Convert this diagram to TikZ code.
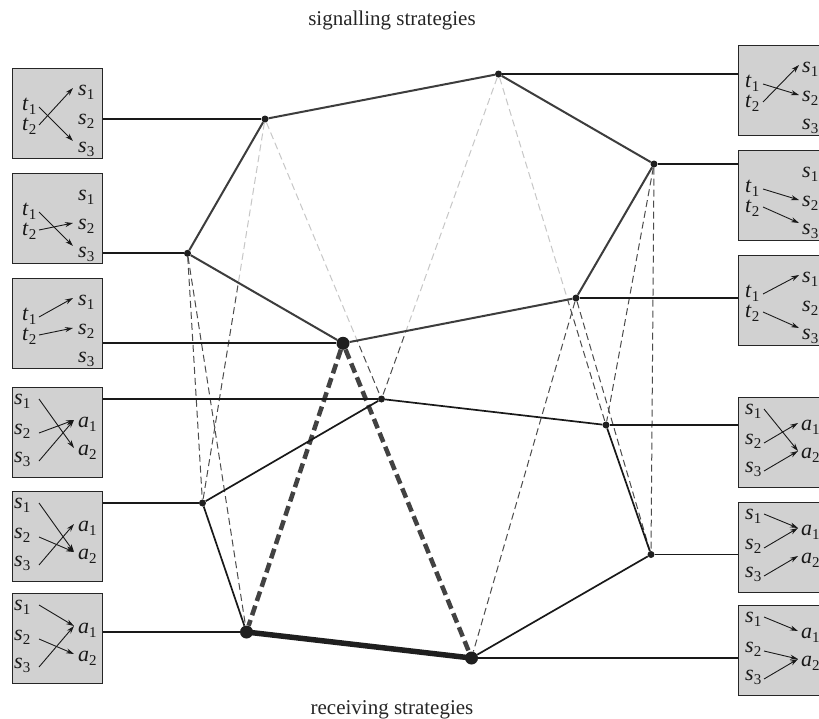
\documentclass[tikz,border=0pt]{standalone}
\usepackage{fontspec}
\setmainfont{Liberation Serif}
\usetikzlibrary{arrows.meta}
\pgfdeclarelayer{paper}
\pgfdeclarelayer{back}
\pgfsetlayers{paper,back,main}
\newcommand{\sv}[2]{\textit{#1}\raisebox{-4.5pt}{\fontsize{15}{15}\selectfont #2}}
\tikzset{
  boxfill/.style={draw=black!85, line width=1pt, fill=black!18, minimum width=90pt, minimum height=90pt, inner sep=0pt, anchor=north west},
  lab/.style={inner sep=0pt, anchor=base west, font=\fontsize{22}{22}\selectfont, text=black!90},
  arr/.style={line width=0.9pt, draw=black!90, -{Stealth[length=8pt,width=5pt]}},
  pics/sigbox/.style n args={6}{code={
    \node[boxfill] (-box) at (0,0) {};
    \node[lab] (-t1) at (#3,42) {\sv{t}{1}};
    \node[lab] (-t2) at (#3,62) {\sv{t}{2}};
    \node[lab] (-s1) at (#6,27) {\sv{s}{1}};
    \node[lab] (-s2) at (#6,56) {\sv{s}{2}};
    \node[lab] (-s3) at (#6,84) {\sv{s}{3}};
    \coordinate (-o1) at (#4,39);
    \coordinate (-o2) at (#4,57);
    \coordinate (-e1) at (#5,20);
    \coordinate (-e2) at (#5,50);
    \coordinate (-e3) at (#5,73);
    \draw[arr] (-o1) -- (-e#1);
    \draw[arr] (-o2) -- (-e#2);
  }},
  pics/recbox/.style n args={8}{code={
    \node[boxfill] (-box) at (0,0) {};
    \node[lab] (-s1) at (#4,17) {\sv{s}{1}};
    \node[lab] (-s2) at (#4,47) {\sv{s}{2}};
    \node[lab] (-s3) at (#4,75) {\sv{s}{3}};
    \node[lab] (-a1) at (#7,{40-#8}) {\sv{a}{1}};
    \node[lab] (-a2) at (#7,{68-#8}) {\sv{a}{2}};
    \coordinate (-o1) at (#5,12);
    \coordinate (-o2) at (#5,46);
    \coordinate (-o3) at (#5,74);
    \coordinate (-e1) at (#6,{33-#8});
    \coordinate (-e2) at (#6,{61-#8});
    \draw[arr] (-o1) -- (-e#1);
    \draw[arr] (-o2) -- (-e#2);
    \draw[arr] (-o3) -- (-e#3);
  }},
  dot/.style={circle, fill=black!88, inner sep=0pt, minimum size=7pt},
  bigdot/.style={circle, fill=black!88, inner sep=0pt, minimum size=13pt},
  topedge/.style={draw=black!76, line width=2pt},
  botedge/.style={draw=black!90, line width=1.7pt},
  hline/.style={draw=black!90, line width=1.7pt},
  thickedge/.style={draw=black!88, line width=5.5pt},
  thickdash/.style={draw=black!74, line width=4.5pt, dash pattern=on 10pt off 5pt},
  thindash/.style={draw=black!70, line width=1pt, dash pattern=on 7pt off 4pt},
  lightdash/.style={draw=black!22, line width=1pt, dash pattern=on 7pt off 4pt},
  title/.style={anchor=base, inner sep=0pt, font=\fontsize{21}{25}\selectfont, text=black!85},
}
\begin{document}
\begin{tikzpicture}[x=1pt,y=-1pt]
\useasboundingbox (0,0) rectangle (819,718);
\begin{pgfonlayer}{paper}
\fill[white] (0,0) rectangle (819,718);
\end{pgfonlayer}

% boxes
\pic (L1) at (12,68)  {sigbox={3}{1}{10}{27}{61}{66}};
\pic (L2) at (12,173) {sigbox={3}{2}{10}{27}{61}{66}};
\pic (L3) at (12,278) {sigbox={1}{2}{10}{27}{61}{66}};
\pic (L4) at (12,387) {recbox={2}{1}{1}{2}{27}{62}{66}{0}};
\pic (L5) at (12,491) {recbox={2}{2}{1}{2}{27}{62}{66}{0}};
\pic (L6) at (12,593) {recbox={1}{2}{1}{2}{27}{62}{66}{0}};
\pic (R1) at (738,45)  {sigbox={2}{1}{7}{25}{61}{64}};
\pic (R2) at (738,150) {sigbox={2}{3}{7}{25}{61}{64}};
\pic (R3) at (738,255) {sigbox={1}{3}{7}{25}{61}{64}};
\pic (R4) at (738,397) {recbox={2}{1}{2}{7}{26}{60}{63}{7}};
\pic (R5) at (738,502) {recbox={1}{1}{2}{7}{26}{60}{63}{7}};
\pic (R6) at (738,605) {recbox={1}{2}{2}{7}{26}{60}{63}{7}};

% vertices
\node[dot] (A) at (265,119) {};
\node[dot] (B) at (187.5,253.3) {};
\node[bigdot] (C) at (343,343.3) {};
\node[dot] (D) at (498.5,74) {};
\node[dot] (E) at (654,164) {};
\node[dot] (F) at (576,298) {};
\node[dot] (G) at (381.5,399) {};
\node[dot] (H) at (202.5,503) {};
\node[bigdot] (I) at (246.5,632) {};
\node[dot] (J) at (606,425) {};
\node[dot] (K) at (651,554.5) {};
\node[bigdot] (L) at (471.5,658) {};

\node[title] (sig) at (392,25) {signalling strategies};
\node[title] (rec) at (392,714) {receiving strategies};

\begin{pgfonlayer}{back}
  % dashed links
  \draw[thindash] (A) -- (H);
  \draw[thindash] (A) -- (G);
  \draw[thindash] (D) -- (G);
  \draw[thindash] (D) -- (J);
  \draw[thindash] (B) -- (H);
  \draw[thindash] (B) -- (I);
  \draw[thindash] (F) -- (L);
  \draw[thindash] (F) -- (K);
  \draw[thindash] (E) -- (J);
  \draw[thindash] (E) -- (K);
  \begin{scope}
    \clip (A.center) -- (D.center) -- (E.center) -- (F.center) -- (C.center) -- (B.center) -- cycle;
    \fill[white] (A.center) -- (D.center) -- (E.center) -- (F.center) -- (C.center) -- (B.center) -- cycle;
    \draw[lightdash] (A) -- (H);
    \draw[lightdash] (A) -- (G);
    \draw[lightdash] (D) -- (G);
    \draw[lightdash] (D) -- (J);
  \end{scope}
  \draw[thickdash] (C) -- (I);
  \draw[thickdash] (C) -- (L);
  % signalling hexagon
  \draw[topedge] (A) -- (B);
  \draw[topedge] (B) -- (C);
  \draw[topedge] (C) -- (F);
  \draw[topedge] (F) -- (E);
  \draw[topedge] (E) -- (D);
  \draw[topedge] (D) -- (A);
  % receiving hexagon
  \draw[botedge] (G) -- (H);
  \draw[botedge] (H) -- (I);
  \draw[thickedge] (I.center) -- (L.center);
  \draw[botedge] (L) -- (K);
  \draw[botedge] (K) -- (J);
  \draw[botedge] (J) -- (G);
  % connectors to boxes
  \draw[hline] (A) -- (A -| L1-box.east);
  \draw[hline] (B) -- (B -| L2-box.east);
  \draw[hline] (C) -- (C -| L3-box.east);
  \draw[hline] (G) -- (G -| L4-box.east);
  \draw[hline] (H) -- (H -| L5-box.east);
  \draw[hline] (I) -- (I -| L6-box.east);
  \draw[hline] (D) -- (D -| R1-box.west);
  \draw[hline] (E) -- (E -| R2-box.west);
  \draw[hline] (F) -- (F -| R3-box.west);
  \draw[hline] (J) -- (J -| R4-box.west);
  \draw[hline] (K) -- (K -| R5-box.west);
  \draw[hline] (L) -- (L -| R6-box.west);
\end{pgfonlayer}
\end{tikzpicture}
\end{document}
